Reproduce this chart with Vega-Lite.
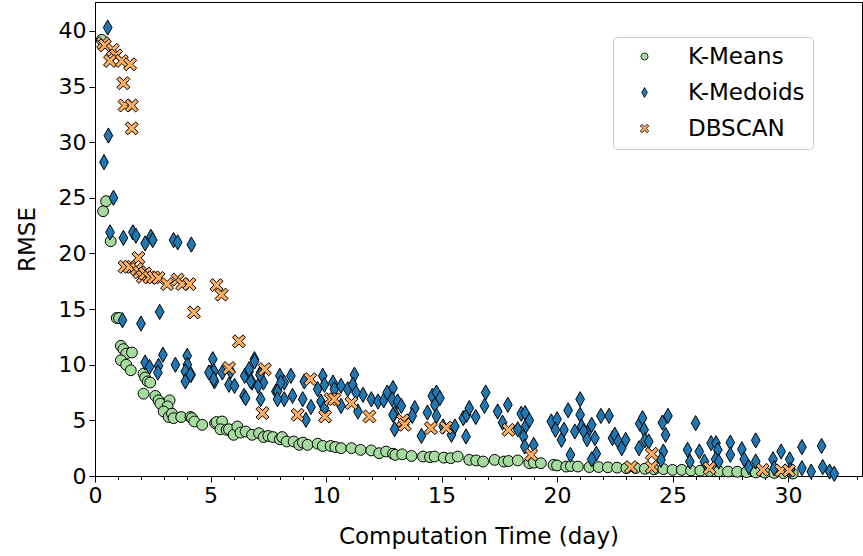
{
"$schema":"https://vega.github.io/schema/vega-lite/v6.json",
"width":767,"height":474,
"autosize":{"type":"none"},
"padding":{"left":95,"top":2,"right":1,"bottom":80},
"background":"white",
"config":{"view":{"stroke":"black","strokeWidth":1},"font":"DejaVu Sans"},
"datasets":{"pts":[
{"s":"K-Means","x":0.29,"y":39.2},{"s":"K-Means","x":0.35,"y":23.8},{"s":"K-Means","x":0.48,"y":24.7},{"s":"K-Means","x":0.68,"y":21.1},{"s":"K-Means","x":0.94,"y":14.2},{"s":"K-Means","x":1.04,"y":14.2},{"s":"K-Means","x":1.12,"y":11.7},{"s":"K-Means","x":1.23,"y":11.4},{"s":"K-Means","x":1.35,"y":11.0},{"s":"K-Means","x":1.6,"y":11.1},{"s":"K-Means","x":1.12,"y":10.4},{"s":"K-Means","x":1.35,"y":10.0},{"s":"K-Means","x":1.55,"y":9.5},{"s":"K-Means","x":2.1,"y":9.2},{"s":"K-Means","x":2.17,"y":8.85},{"s":"K-Means","x":2.28,"y":8.5},{"s":"K-Means","x":2.39,"y":8.4},{"s":"K-Means","x":2.1,"y":7.4},{"s":"K-Means","x":2.61,"y":7.2},{"s":"K-Means","x":2.75,"y":6.8},{"s":"K-Means","x":2.83,"y":6.5},{"s":"K-Means","x":3.23,"y":6.8},{"s":"K-Means","x":3.14,"y":6.26},{"s":"K-Means","x":2.97,"y":5.8},{"s":"K-Means","x":3.19,"y":5.3},{"s":"K-Means","x":3.33,"y":5.6},{"s":"K-Means","x":3.4,"y":5.2},{"s":"K-Means","x":3.73,"y":5.3},{"s":"K-Means","x":4.13,"y":5.3},{"s":"K-Means","x":4.2,"y":5.2},{"s":"K-Means","x":4.3,"y":4.9},{"s":"K-Means","x":4.64,"y":4.6},{"s":"K-Means","x":5.2,"y":4.75},{"s":"K-Means","x":5.26,"y":4.85},{"s":"K-Means","x":5.5,"y":4.9},{"s":"K-Means","x":5.43,"y":4.2},{"s":"K-Means","x":5.7,"y":4.15},{"s":"K-Means","x":5.8,"y":4.2},{"s":"K-Means","x":6.0,"y":3.7},{"s":"K-Means","x":6.16,"y":4.45},{"s":"K-Means","x":6.3,"y":3.9},{"s":"K-Means","x":6.52,"y":4.0},{"s":"K-Means","x":6.8,"y":3.7},{"s":"K-Means","x":7.1,"y":3.85},{"s":"K-Means","x":7.3,"y":3.5},{"s":"K-Means","x":7.5,"y":3.6},{"s":"K-Means","x":7.7,"y":3.5},{"s":"K-Means","x":8.0,"y":3.3},{"s":"K-Means","x":8.1,"y":3.5},{"s":"K-Means","x":8.3,"y":3.1},{"s":"K-Means","x":8.6,"y":3.1},{"s":"K-Means","x":8.84,"y":2.8},{"s":"K-Means","x":9.0,"y":3.0},{"s":"K-Means","x":9.2,"y":2.8},{"s":"K-Means","x":9.64,"y":2.9},{"s":"K-Means","x":9.86,"y":2.7},{"s":"K-Means","x":10.2,"y":2.7},{"s":"K-Means","x":10.4,"y":2.6},{"s":"K-Means","x":10.65,"y":2.5},{"s":"K-Means","x":11.1,"y":2.5},{"s":"K-Means","x":11.5,"y":2.35},{"s":"K-Means","x":11.96,"y":2.3},{"s":"K-Means","x":12.3,"y":2.05},{"s":"K-Means","x":12.6,"y":2.2},{"s":"K-Means","x":12.9,"y":2.0},{"s":"K-Means","x":13.0,"y":1.9},{"s":"K-Means","x":13.3,"y":1.95},{"s":"K-Means","x":13.7,"y":1.8},{"s":"K-Means","x":14.2,"y":1.75},{"s":"K-Means","x":14.5,"y":1.7},{"s":"K-Means","x":14.7,"y":1.75},{"s":"K-Means","x":15.1,"y":1.65},{"s":"K-Means","x":15.4,"y":1.6},{"s":"K-Means","x":15.7,"y":1.75},{"s":"K-Means","x":16.2,"y":1.45},{"s":"K-Means","x":16.5,"y":1.4},{"s":"K-Means","x":16.8,"y":1.3},{"s":"K-Means","x":17.3,"y":1.45},{"s":"K-Means","x":17.7,"y":1.3},{"s":"K-Means","x":17.9,"y":1.35},{"s":"K-Means","x":18.3,"y":1.4},{"s":"K-Means","x":18.8,"y":1.15},{"s":"K-Means","x":19.0,"y":1.2},{"s":"K-Means","x":19.3,"y":1.15},{"s":"K-Means","x":19.85,"y":1.0},{"s":"K-Means","x":20.0,"y":0.95},{"s":"K-Means","x":20.4,"y":0.85},{"s":"K-Means","x":20.6,"y":0.9},{"s":"K-Means","x":20.9,"y":0.85},{"s":"K-Means","x":21.4,"y":0.8},{"s":"K-Means","x":21.8,"y":0.8},{"s":"K-Means","x":22.2,"y":0.78},{"s":"K-Means","x":22.6,"y":0.75},{"s":"K-Means","x":23.0,"y":0.7},{"s":"K-Means","x":23.4,"y":0.72},{"s":"K-Means","x":23.8,"y":0.65},{"s":"K-Means","x":24.2,"y":0.6},{"s":"K-Means","x":24.6,"y":0.62},{"s":"K-Means","x":25.0,"y":0.55},{"s":"K-Means","x":25.4,"y":0.55},{"s":"K-Means","x":25.8,"y":0.5},{"s":"K-Means","x":26.2,"y":0.48},{"s":"K-Means","x":26.6,"y":0.45},{"s":"K-Means","x":27.0,"y":0.42},{"s":"K-Means","x":27.4,"y":0.4},{"s":"K-Means","x":27.8,"y":0.38},{"s":"K-Means","x":28.2,"y":0.35},{"s":"K-Means","x":28.6,"y":0.32},{"s":"K-Means","x":29.0,"y":0.3},{"s":"K-Means","x":29.4,"y":0.28},{"s":"K-Means","x":29.8,"y":0.25},{"s":"K-Means","x":30.2,"y":0.22},
{"s":"K-Medoids","x":0.55,"y":40.3},{"s":"K-Medoids","x":0.58,"y":30.6},{"s":"K-Medoids","x":0.39,"y":28.2},{"s":"K-Medoids","x":0.8,"y":25.0},{"s":"K-Medoids","x":0.65,"y":21.9},{"s":"K-Medoids","x":1.23,"y":21.4},{"s":"K-Medoids","x":1.64,"y":21.9},{"s":"K-Medoids","x":1.77,"y":21.6},{"s":"K-Medoids","x":2.17,"y":20.9},{"s":"K-Medoids","x":2.42,"y":21.5},{"s":"K-Medoids","x":2.5,"y":21.2},{"s":"K-Medoids","x":3.4,"y":21.2},{"s":"K-Medoids","x":3.58,"y":21.0},{"s":"K-Medoids","x":4.17,"y":20.8},{"s":"K-Medoids","x":2.8,"y":14.75},{"s":"K-Medoids","x":1.19,"y":14.0},{"s":"K-Medoids","x":1.99,"y":13.7},{"s":"K-Medoids","x":2.17,"y":10.2},{"s":"K-Medoids","x":2.36,"y":9.8},{"s":"K-Medoids","x":2.94,"y":10.9},{"s":"K-Medoids","x":2.75,"y":9.9},{"s":"K-Medoids","x":2.72,"y":9.3},{"s":"K-Medoids","x":3.48,"y":10.0},{"s":"K-Medoids","x":3.99,"y":10.8},{"s":"K-Medoids","x":4.0,"y":10.0},{"s":"K-Medoids","x":3.91,"y":9.4},{"s":"K-Medoids","x":4.16,"y":9.1},{"s":"K-Medoids","x":3.91,"y":8.5},{"s":"K-Medoids","x":5.1,"y":10.5},{"s":"K-Medoids","x":5.0,"y":9.3},{"s":"K-Medoids","x":5.17,"y":8.5},{"s":"K-Medoids","x":5.15,"y":9.4},{"s":"K-Medoids","x":5.8,"y":8.2},{"s":"K-Medoids","x":6.04,"y":8.1},{"s":"K-Medoids","x":6.48,"y":9.0},{"s":"K-Medoids","x":6.9,"y":10.5},{"s":"K-Medoids","x":6.67,"y":9.4},{"s":"K-Medoids","x":6.8,"y":8.4},{"s":"K-Medoids","x":7.17,"y":9.3},{"s":"K-Medoids","x":7.29,"y":8.4},{"s":"K-Medoids","x":7.17,"y":6.9},{"s":"K-Medoids","x":6.45,"y":7.2},{"s":"K-Medoids","x":6.52,"y":7.0},{"s":"K-Medoids","x":7.83,"y":7.6},{"s":"K-Medoids","x":8.19,"y":6.9},{"s":"K-Medoids","x":8.0,"y":9.0},{"s":"K-Medoids","x":8.19,"y":8.4},{"s":"K-Medoids","x":4.13,"y":9.1},{"s":"K-Medoids","x":4.93,"y":9.3},{"s":"K-Medoids","x":5.14,"y":8.7},{"s":"K-Medoids","x":5.51,"y":9.3},{"s":"K-Medoids","x":5.87,"y":9.4},{"s":"K-Medoids","x":6.67,"y":9.6},{"s":"K-Medoids","x":6.74,"y":8.5},{"s":"K-Medoids","x":6.91,"y":10.3},{"s":"K-Medoids","x":7.06,"y":8.1},{"s":"K-Medoids","x":7.14,"y":9.1},{"s":"K-Medoids","x":7.9,"y":7.6},{"s":"K-Medoids","x":7.9,"y":6.9},{"s":"K-Medoids","x":8.04,"y":8.4},{"s":"K-Medoids","x":8.48,"y":9.0},{"s":"K-Medoids","x":8.55,"y":7.2},{"s":"K-Medoids","x":8.99,"y":6.9},{"s":"K-Medoids","x":9.06,"y":8.5},{"s":"K-Medoids","x":9.35,"y":6.2},{"s":"K-Medoids","x":9.13,"y":5.05},{"s":"K-Medoids","x":9.64,"y":7.8},{"s":"K-Medoids","x":9.86,"y":9.0},{"s":"K-Medoids","x":9.93,"y":8.2},{"s":"K-Medoids","x":9.78,"y":6.7},{"s":"K-Medoids","x":9.93,"y":6.1},{"s":"K-Medoids","x":10.3,"y":8.4},{"s":"K-Medoids","x":10.36,"y":7.8},{"s":"K-Medoids","x":10.65,"y":8.1},{"s":"K-Medoids","x":10.65,"y":6.3},{"s":"K-Medoids","x":10.94,"y":7.8},{"s":"K-Medoids","x":11.23,"y":9.1},{"s":"K-Medoids","x":11.16,"y":8.2},{"s":"K-Medoids","x":11.38,"y":5.8},{"s":"K-Medoids","x":11.6,"y":7.3},{"s":"K-Medoids","x":11.3,"y":7.5},{"s":"K-Medoids","x":11.96,"y":6.9},{"s":"K-Medoids","x":12.25,"y":6.7},{"s":"K-Medoids","x":12.5,"y":6.8},{"s":"K-Medoids","x":12.65,"y":7.5},{"s":"K-Medoids","x":12.9,"y":7.9},{"s":"K-Medoids","x":12.86,"y":6.9},{"s":"K-Medoids","x":13.1,"y":6.7},{"s":"K-Medoids","x":13.26,"y":6.3},{"s":"K-Medoids","x":12.97,"y":5.65},{"s":"K-Medoids","x":12.9,"y":5.5},{"s":"K-Medoids","x":12.97,"y":4.2},{"s":"K-Medoids","x":13.84,"y":6.1},{"s":"K-Medoids","x":13.73,"y":5.4},{"s":"K-Medoids","x":14.13,"y":3.6},{"s":"K-Medoids","x":14.39,"y":5.7},{"s":"K-Medoids","x":14.6,"y":7.2},{"s":"K-Medoids","x":14.78,"y":7.5},{"s":"K-Medoids","x":14.71,"y":6.4},{"s":"K-Medoids","x":14.93,"y":7.0},{"s":"K-Medoids","x":14.78,"y":5.4},{"s":"K-Medoids","x":15.07,"y":4.45},{"s":"K-Medoids","x":15.43,"y":3.7},{"s":"K-Medoids","x":15.58,"y":4.45},{"s":"K-Medoids","x":15.94,"y":5.2},{"s":"K-Medoids","x":16.06,"y":3.55},{"s":"K-Medoids","x":16.09,"y":5.5},{"s":"K-Medoids","x":16.2,"y":6.1},{"s":"K-Medoids","x":16.48,"y":5.3},{"s":"K-Medoids","x":16.86,"y":6.3},{"s":"K-Medoids","x":16.91,"y":7.5},{"s":"K-Medoids","x":17.43,"y":5.8},{"s":"K-Medoids","x":17.64,"y":4.8},{"s":"K-Medoids","x":17.87,"y":6.4},{"s":"K-Medoids","x":18.3,"y":4.2},{"s":"K-Medoids","x":18.45,"y":5.6},{"s":"K-Medoids","x":18.62,"y":5.65},{"s":"K-Medoids","x":18.65,"y":4.5},{"s":"K-Medoids","x":18.8,"y":5.0},{"s":"K-Medoids","x":18.55,"y":3.55},{"s":"K-Medoids","x":18.6,"y":2.65},{"s":"K-Medoids","x":18.99,"y":2.8},{"s":"K-Medoids","x":19.75,"y":4.9},{"s":"K-Medoids","x":20.0,"y":5.1},{"s":"K-Medoids","x":19.93,"y":4.15},{"s":"K-Medoids","x":20.19,"y":3.25},{"s":"K-Medoids","x":20.3,"y":4.15},{"s":"K-Medoids","x":20.48,"y":5.9},{"s":"K-Medoids","x":20.58,"y":1.9},{"s":"K-Medoids","x":20.77,"y":4.0},{"s":"K-Medoids","x":21.0,"y":6.9},{"s":"K-Medoids","x":21.0,"y":5.5},{"s":"K-Medoids","x":21.06,"y":4.45},{"s":"K-Medoids","x":21.3,"y":3.85},{"s":"K-Medoids","x":21.16,"y":4.0},{"s":"K-Medoids","x":21.3,"y":3.3},{"s":"K-Medoids","x":21.5,"y":4.6},{"s":"K-Medoids","x":21.64,"y":3.4},{"s":"K-Medoids","x":21.7,"y":2.0},{"s":"K-Medoids","x":21.5,"y":1.5},{"s":"K-Medoids","x":21.9,"y":5.4},{"s":"K-Medoids","x":22.25,"y":5.4},{"s":"K-Medoids","x":22.4,"y":3.4},{"s":"K-Medoids","x":22.5,"y":3.7},{"s":"K-Medoids","x":22.65,"y":3.1},{"s":"K-Medoids","x":22.8,"y":2.5},{"s":"K-Medoids","x":22.97,"y":3.25},{"s":"K-Medoids","x":23.58,"y":4.7},{"s":"K-Medoids","x":23.7,"y":5.2},{"s":"K-Medoids","x":23.77,"y":4.15},{"s":"K-Medoids","x":23.8,"y":3.2},{"s":"K-Medoids","x":23.97,"y":3.1},{"s":"K-Medoids","x":23.55,"y":2.5},{"s":"K-Medoids","x":24.56,"y":4.8},{"s":"K-Medoids","x":24.8,"y":5.4},{"s":"K-Medoids","x":24.7,"y":3.7},{"s":"K-Medoids","x":24.6,"y":2.2},{"s":"K-Medoids","x":24.5,"y":1.45},{"s":"K-Medoids","x":26.0,"y":4.75},{"s":"K-Medoids","x":25.65,"y":2.35},{"s":"K-Medoids","x":25.75,"y":1.3},{"s":"K-Medoids","x":26.16,"y":2.2},{"s":"K-Medoids","x":26.38,"y":1.3},{"s":"K-Medoids","x":26.67,"y":2.95},{"s":"K-Medoids","x":26.88,"y":2.95},{"s":"K-Medoids","x":26.96,"y":2.35},{"s":"K-Medoids","x":26.86,"y":1.5},{"s":"K-Medoids","x":27.0,"y":1.3},{"s":"K-Medoids","x":27.5,"y":3.0},{"s":"K-Medoids","x":27.5,"y":1.9},{"s":"K-Medoids","x":28.0,"y":2.4},{"s":"K-Medoids","x":28.1,"y":1.5},{"s":"K-Medoids","x":28.3,"y":0.8},{"s":"K-Medoids","x":28.6,"y":3.2},{"s":"K-Medoids","x":28.6,"y":1.3},{"s":"K-Medoids","x":29.35,"y":1.5},{"s":"K-Medoids","x":29.4,"y":0.7},{"s":"K-Medoids","x":29.7,"y":2.2},{"s":"K-Medoids","x":30.07,"y":1.5},{"s":"K-Medoids","x":30.1,"y":0.55},{"s":"K-Medoids","x":30.6,"y":2.6},{"s":"K-Medoids","x":30.6,"y":0.7},{"s":"K-Medoids","x":31.0,"y":0.4},{"s":"K-Medoids","x":31.45,"y":2.7},{"s":"K-Medoids","x":31.5,"y":0.8},{"s":"K-Medoids","x":31.8,"y":0.4},{"s":"K-Medoids","x":32.0,"y":0.2},
{"s":"DBSCAN","x":0.35,"y":38.9},{"s":"DBSCAN","x":0.43,"y":38.7},{"s":"DBSCAN","x":0.77,"y":38.3},{"s":"DBSCAN","x":0.91,"y":37.8},{"s":"DBSCAN","x":0.65,"y":37.3},{"s":"DBSCAN","x":1.16,"y":37.3},{"s":"DBSCAN","x":1.52,"y":37.0},{"s":"DBSCAN","x":1.23,"y":35.3},{"s":"DBSCAN","x":1.28,"y":33.3},{"s":"DBSCAN","x":1.59,"y":33.3},{"s":"DBSCAN","x":1.59,"y":31.25},{"s":"DBSCAN","x":1.88,"y":19.6},{"s":"DBSCAN","x":1.28,"y":18.8},{"s":"DBSCAN","x":1.49,"y":18.8},{"s":"DBSCAN","x":1.81,"y":18.6},{"s":"DBSCAN","x":1.93,"y":18.3},{"s":"DBSCAN","x":2.07,"y":17.9},{"s":"DBSCAN","x":2.17,"y":18.2},{"s":"DBSCAN","x":2.36,"y":17.85},{"s":"DBSCAN","x":2.54,"y":17.85},{"s":"DBSCAN","x":2.75,"y":17.8},{"s":"DBSCAN","x":3.12,"y":17.25},{"s":"DBSCAN","x":3.58,"y":17.65},{"s":"DBSCAN","x":3.77,"y":17.25},{"s":"DBSCAN","x":4.09,"y":17.25},{"s":"DBSCAN","x":5.26,"y":17.15},{"s":"DBSCAN","x":5.48,"y":16.3},{"s":"DBSCAN","x":4.28,"y":14.7},{"s":"DBSCAN","x":6.23,"y":12.1},{"s":"DBSCAN","x":5.8,"y":9.7},{"s":"DBSCAN","x":7.35,"y":9.6},{"s":"DBSCAN","x":7.25,"y":5.65},{"s":"DBSCAN","x":9.32,"y":8.7},{"s":"DBSCAN","x":8.77,"y":5.5},{"s":"DBSCAN","x":9.96,"y":5.35},{"s":"DBSCAN","x":10.2,"y":6.9},{"s":"DBSCAN","x":10.36,"y":6.9},{"s":"DBSCAN","x":11.1,"y":6.55},{"s":"DBSCAN","x":11.88,"y":5.35},{"s":"DBSCAN","x":13.33,"y":5.0},{"s":"DBSCAN","x":13.4,"y":4.6},{"s":"DBSCAN","x":14.54,"y":4.3},{"s":"DBSCAN","x":15.2,"y":4.35},{"s":"DBSCAN","x":17.9,"y":4.15},{"s":"DBSCAN","x":18.88,"y":1.9},{"s":"DBSCAN","x":24.1,"y":2.0},{"s":"DBSCAN","x":23.2,"y":0.8},{"s":"DBSCAN","x":24.1,"y":0.8},{"s":"DBSCAN","x":26.6,"y":0.7},{"s":"DBSCAN","x":28.9,"y":0.55},{"s":"DBSCAN","x":29.7,"y":0.5},{"s":"DBSCAN","x":30.04,"y":0.5}
]},
"data":{"name":"pts"},
"mark":{"type":"point","filled":true,"stroke":"black","strokeWidth":1,"size":118,"opacity":1},
"encoding":{
"x":{"field":"x","type":"quantitative","scale":{"domain":[0,33.2],"nice":false,"zero":false},
"axis":{"title":"Computation Time (day)","values":[0,1,2,3,4,5,6,7,8,9,10,11,12,13,14,15,16,17,18,19,20,21,22,23,24,25,26,27,28,29,30,31,32,33],
"labelExpr":"datum.value % 5 === 0 ? datum.label : ''","labelOverlap":false,"labelFlush":false,
"tickSize":{"condition":{"test":"datum.value % 5 === 0","value":6},"value":3.5},
"grid":false,"domainColor":"black","tickColor":"black","labelColor":"black","labelFontSize":22,"labelFont":"DejaVu Sans","labelPadding":3,
"titleFontSize":23,"titleFont":"DejaVu Sans","titleFontWeight":"normal","titleColor":"black","titlePadding":19}},
"y":{"field":"y","type":"quantitative","scale":{"domain":[0,42.6],"nice":false,"zero":false},
"axis":{"title":"RMSE","values":[0,5,10,15,20,25,30,35,40],"grid":false,"domainColor":"black","tickColor":"black","tickSize":6,"labelColor":"black","labelFontSize":22,"labelFont":"DejaVu Sans","labelPadding":3,
"titleFontSize":23,"titleFont":"DejaVu Sans","titleFontWeight":"normal","titleColor":"black","titlePadding":19}},
"fill":{"field":"s","type":"nominal","scale":{"domain":["K-Means","K-Medoids","DBSCAN"],"range":["#a6dba0","#1f77b4","#fdae61"]},
"legend":{"title":null,"orient":"none","legendX":518,"legendY":35,"labelFontSize":23,"labelFont":"DejaVu Sans","labelColor":"black","symbolSize":50,"strokeColor":"#cccccc","fillColor":"white","cornerRadius":4,"padding":8,"rowPadding":12,"labelOffset":32,"symbolOffset":12,"symbolStrokeColor":"black","symbolStrokeWidth":0.8}},
"shape":{"field":"s","type":"nominal","scale":{"domain":["K-Means","K-Medoids","DBSCAN"],"range":["circle","M0,-1.4L0.8,0L0,1.4L-0.8,0Z","M-1.2,-0.72L-0.72,-1.2L0,-0.48L0.72,-1.2L1.2,-0.72L0.48,0L1.2,0.72L0.72,1.2L0,0.48L-0.72,1.2L-1.2,0.72L-0.48,0Z"]}}
}
}
